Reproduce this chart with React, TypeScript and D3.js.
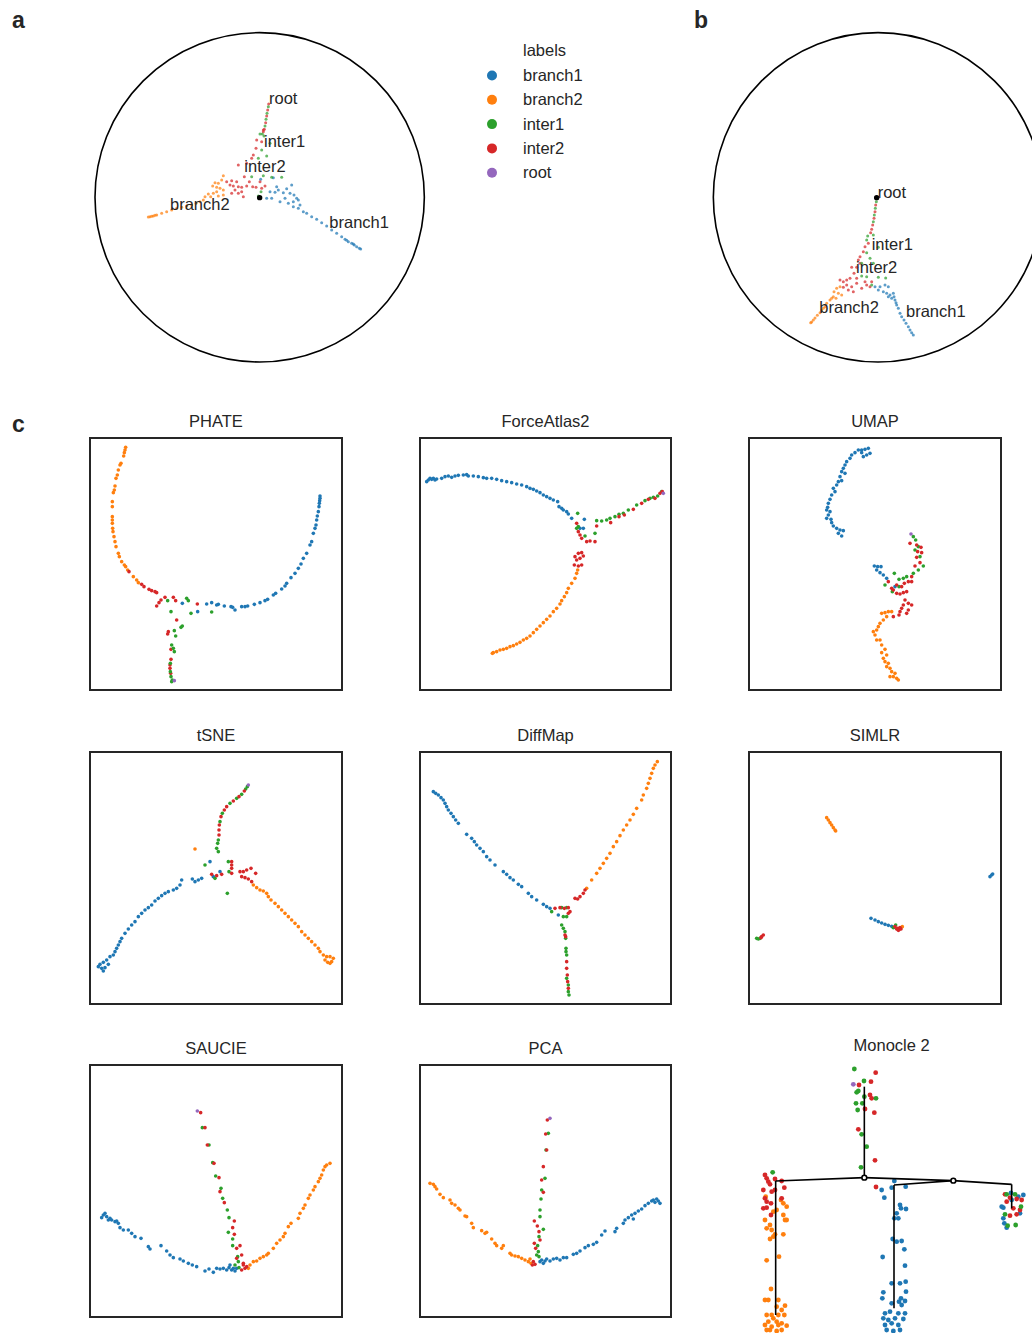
import React from 'react';
import * as d3 from 'd3';

// ---------- categories & colours ----------
const LABELS = ['branch1', 'branch2', 'inter1', 'inter2', 'root'];
const COLORS = ['#1f77b4', '#ff7f0e', '#2ca02c', '#d62728', '#9467bd'];
const B1 = 0, B2 = 1, I1 = 2, I2 = 3, RT = 4;

type Group = [number, number[]];

// ---------- panel a (Poincaré disk, arbitrary units) ----------
const A_PTS: Group[] = [
  [B2, [400,437,395,450,385,460,375,458,368,468,380,472,390,475,400,480,380,485,370,490,355,492,345,500,362,500,385,498,400,495,340,510,330,515,318,520,305,525,290,528,275,532,260,535,245,540,230,545,215,550,200,555,190,558,180,560,175,561,185,559,195,556]],
  [B1, [512,448,550,443,540,485,555,487,565,480,580,488,590,476,605,465,600,490,612,495,620,505,625,510,585,505,570,515,595,520,610,515,630,525,625,535,640,545,610,530,545,505,530,505,560,470,650,550,665,560,680,568,695,578,710,588,725,600,740,610,755,620,765,628,775,635,785,640,793,645,800,650,808,655,812,657,790,642,770,631]],
  [I2, [536,222,533,240,530,258,527,278,523,298,520,305,520,300,500,330,515,335,498,355,490,375,485,385,470,400,445,405,463,440,440,455,425,452,410,455,420,465,430,468,445,470,455,472,470,468,488,470,498,472,510,455,435,480,445,490,460,500,425,490,515,475,455,485,478,455,525,468]],
  [I1, [535,230,531,250,528,268,525,288,517,312,522,318,510,312,540,340,530,378,505,385,515,360,485,440,520,437,545,442,575,442,513,485,505,498]],
];
const A_LABELS = ['root', 'inter1', 'inter2', 'branch2', 'branch1'];
const A_LABEL_POS = [[537,222],[522,352],[463,425],[240,540],[718,595]];
const A_CENTER = [509, 503];
const A_DISK = [509, 502, 494];

// ---------- panel b ----------
const B_PTS: Group[] = [
  [B2, [420,770,410,775,402,785,415,790,425,795,400,800,390,810,408,805,380,820,375,830,365,840,360,848,352,856,345,864,340,870,335,876,332,878,395,805,370,835]],
  [B1, [525,770,540,770,555,765,565,770,535,780,550,785,560,790,570,795,575,805,585,810,565,800,580,790,590,825,595,835,600,850,605,860,612,870,618,880,625,890,630,900,635,908,640,915,588,818,582,800]],
  [I2, [527,525,525,545,522,565,518,585,515,598,512,608,505,640,495,650,490,665,480,680,475,690,480,700,470,712,455,712,462,730,450,745,440,750,430,755,420,750,440,765,455,770,470,760,485,775,500,765,510,770,445,780,460,785,430,772,470,745,515,755,495,755]],
  [I1, [529,515,526,535,523,555,520,575,503,618,520,615,500,630,535,652,500,668,510,685,520,700,485,700,485,738,500,740,535,742,557,744,515,765]],
];
const B_LABELS = ['root', 'inter1', 'inter2', 'branch2', 'branch1'];
const B_LABEL_POS = [[533,503],[515,660],[468,730],[358,850],[618,862]];
const B_CENTER = [530, 503];
const B_DISK = [534, 502, 494];

// ---------- panel c embeddings ----------
const PHATE: Group[] = [
  [B2, [122,112,120,120,118,128,116,138,108,160,105,165,100,180,97,195,93,205,90,228,88,240,85,248,82,275,82,290,82,320,82,330,82,340,83,355,84,365,87,380,90,395,93,410,100,430,103,440,110,455,118,465,122,470,128,480,145,500,155,510,160,518]],
  [B1, [292,580,338,605,365,582,380,578,395,585,400,583,418,588,438,590,443,592,450,600,470,590,480,590,488,588,508,583,525,578,540,572,548,568,565,555,572,550,590,537,600,528,605,520,618,503,630,490,640,475,648,462,655,445,665,430,675,405,680,395,685,370,690,355,693,345,695,330,697,318,700,305,702,290,703,280,704,272,705,265,705,258]],
  [I2, [132,485,170,523,177,530,192,538,200,542,210,545,215,548,240,562,228,570,222,578,215,588,265,562,272,572,337,582,275,630,250,665,248,672,258,718,258,748,255,765,255,775,257,790]],
  [I1, [248,572,305,565,310,572,258,605,318,610,380,606,292,648,288,652,268,662,272,678,260,705,265,715,268,725,256,760,256,785,258,800,262,810,260,815]],
  [RT, [268,812]],
];
const FORCEATLAS2: Group[] = [
  [B1, [35,215,40,210,45,205,50,208,55,205,60,210,65,207,80,205,90,200,100,198,110,202,120,198,130,196,145,195,155,194,160,198,175,198,190,200,205,203,215,205,230,205,245,208,260,212,275,215,290,218,305,222,320,225,335,230,345,235,355,238,365,243,375,248,385,255,395,260,405,265,415,270,428,275,432,290,440,295,445,300,455,305,460,312,470,325,508,328,505,355,495,355]],
  [B2, [488,480,485,490,480,505,470,520,460,535,455,548,448,560,440,572,435,582,425,595,415,605,405,618,395,628,385,638,375,648,365,658,355,668,345,678,335,685,325,690,315,697,305,702,295,707,285,710,275,715,265,718,255,720,245,725,235,728,232,730]],
  [I1, [488,310,545,332,560,333,575,330,585,325,485,355,490,350,510,378,540,370,600,320,612,313,625,310,640,300,665,285,690,272,705,265,715,262,728,258,740,245]],
  [I2, [485,340,545,348,587,338,490,365,495,375,500,385,515,395,525,393,540,395,480,440,490,430,500,428,505,438,485,450,495,445,478,465,490,468,500,465,612,320,628,315,655,298,680,280,700,268,720,265,735,250,742,245]],
  [RT, [745,250]],
];
const UMAP: Group[] = [
  [B1, [370,115,360,118,350,120,340,120,375,130,365,135,355,140,350,128,330,128,320,135,315,145,305,155,300,165,295,175,290,185,300,190,285,200,290,212,280,215,275,225,265,235,270,245,260,255,255,268,250,280,248,292,245,300,255,305,250,315,245,325,258,328,260,338,265,348,275,355,285,360,295,362,280,370,290,378,388,468,398,470,408,470,395,480,405,488,415,495,425,505,450,530]],
  [B2, [440,605,430,605,420,608,410,610,425,620,415,630,405,640,400,650,395,660,385,665,390,675,395,690,405,690,410,705,420,718,410,728,425,735,415,745,420,755,430,760,425,770,435,775,440,785,450,790,445,800,455,805,460,810,435,800]],
  [I1, [505,380,512,390,520,410,510,420,525,440,535,468,520,480,505,490,485,500,475,505,462,508,448,490,420,525,462,530,442,545]],
  [I2, [495,400,515,405,528,412,518,425,515,442,530,428,525,458,510,468,500,500,500,515,490,515,478,520,470,530,455,525,430,515,440,535,445,540,455,550,465,552,475,548,485,545,480,570,490,580,500,585,475,585,470,595,490,600,485,610,465,605,462,615,445,620]],
  [RT, [498,372]],
];
const TSNE: Group[] = [
  [B1, [375,410,405,440,385,455,350,460,340,465,330,470,322,462,290,465,285,480,275,490,265,495,250,500,240,505,230,512,220,520,210,528,200,540,190,548,180,555,170,565,160,575,150,590,140,600,130,612,120,625,110,640,105,650,100,660,95,670,90,680,85,690,75,695,65,705,55,712,45,718,40,725,50,730,60,728,55,738,70,718]],
  [B2, [330,372,505,480,515,488,525,495,535,498,545,505,550,515,558,525,570,535,580,545,590,555,600,565,610,575,620,585,630,595,640,605,650,620,660,630,670,640,680,650,690,660,700,670,705,680,715,690,725,695,735,695,745,700,740,710,728,712,720,705,735,715]],
  [I1, [487,185,482,192,470,208,455,220,435,235,412,265,405,290,400,345,398,355,395,370,400,380,430,410,432,440,390,460,360,420,427,505]],
  [I2, [478,198,462,215,445,228,425,245,418,255,408,275,403,300,402,315,402,330,440,410,440,420,440,430,440,445,380,448,395,452,410,448,465,440,475,440,485,435,498,430,512,445,470,455,480,458,490,462,500,470]],
  [RT, [490,180]],
];
const DIFFMAP: Group[] = [
  [B1, [55,200,62,205,70,210,78,218,85,225,90,235,95,245,100,255,108,265,115,275,122,285,130,295,155,328,170,340,178,350,185,360,195,370,205,380,215,395,225,405,240,420,265,440,275,448,285,458,295,465,310,478,320,485,340,505,350,515,365,525,385,538,395,545,405,550,430,570]],
  [B2, [515,490,530,465,545,445,555,430,565,415,575,400,585,385,595,365,605,350,615,332,625,315,635,300,645,285,655,268,665,250,680,225,685,210,695,190,700,175,705,160,710,145,715,130,720,120,727,110]],
  [I1, [410,560,440,548,455,548,445,575,455,575,440,600,445,610,450,620,452,640,453,670,453,680,455,690,455,760,460,780,460,800,462,810]],
  [I2, [420,550,435,548,448,550,460,548,465,560,460,565,480,520,488,522,495,515,505,505,510,495,450,630,452,635,455,710,455,730,457,750,458,770,460,790]],
];
const SIMLR: Group[] = [
  [B2, [245,278,250,285,255,293,260,300,265,308,270,315,272,318,472,605]],
  [B1, [735,455,740,450,743,447,378,580,390,585,400,590,410,594,420,598,430,601,440,604,448,606]],
  [I1, [452,600,445,608,35,640,40,642,45,640]],
  [I2, [450,605,458,610,462,614,465,608,455,612,460,616,468,612,50,635,55,630,48,638]],
];
const SAUCIE: Group[] = [
  [B1, [50,548,55,540,60,535,65,545,70,555,75,550,80,555,90,560,95,558,100,565,105,578,115,585,130,585,140,595,150,605,168,610,190,635,195,642,228,632,245,648,255,660,265,668,285,672,295,678,310,685,322,690,335,695,360,708,372,702,385,712,395,700,405,702,415,700,425,705,432,698,435,690,440,705,445,700,450,708,455,700]],
  [B2, [490,700,495,690,505,680,515,678,525,670,535,665,545,660,550,655,565,640,575,625,585,615,595,605,600,595,610,575,618,565,640,550,645,535,655,520,660,510,670,490,675,480,685,465,690,455,700,440,705,430,710,420,715,405,720,395,725,390,735,385]],
  [I1, [352,278,372,330,383,383,392,423,408,460,413,490,427,525,432,548,430,592,443,612,443,632,458,665,460,680,450,690,462,698]],
  [I2, [347,233,360,278,367,330,387,385,402,428,405,470,418,503,448,558,443,578,448,598,455,640,465,632,470,660,455,670,475,690,480,700,470,705,485,695,475,685]],
  [RT, [337,228]],
];
const PCA: Group[] = [
  [B2, [45,445,55,448,60,455,65,462,75,478,85,488,105,495,110,505,120,510,130,520,135,525,150,543,155,545,170,565,175,578,200,587,210,595,215,592,230,612,240,625,245,632,260,640,265,632,285,655,290,660,300,663,310,665,320,670,330,675,340,680,348,685,345,672]],
  [B1, [375,680,380,675,385,685,390,678,395,672,405,678,415,672,425,670,435,675,445,668,455,668,475,658,485,655,495,648,510,638,520,632,535,628,545,622,560,600,570,588,600,590,605,580,625,565,630,555,640,548,650,540,655,552,660,535,670,528,680,522,690,512,700,505,710,498,715,495,720,502,730,498,735,505,725,492]],
  [I1, [400,295,393,345,390,430,380,465,378,492,375,525,375,545,385,583,372,605,368,632,370,650,365,660,372,665]],
  [I2, [397,255,392,297,395,345,385,395,380,435,385,472,358,558,367,573,372,590,375,615,358,625,362,640,355,680,360,688,352,690]],
  [RT, [405,250]],
];
const MONOCLE: Group[] = [
  [B2, [62,485,108,495,115,505,125,515,95,525,85,530,115,540,60,555,120,555,125,555,75,570,65,580,80,585,90,598,115,598,75,612,85,605,102,665,65,676,78,762,60,795,70,795,100,795,95,815,120,812,110,825,65,840,80,840,100,840,118,840,85,850,70,860,95,860,110,865,60,870,80,875,100,870,125,872,75,885,95,888,65,885,110,885]],
  [B1, [448,438,410,465,440,458,482,455,418,488,465,510,468,520,483,522,455,535,448,550,460,550,443,612,455,620,470,618,478,643,413,666,480,692,440,745,465,745,482,740,483,770,415,772,412,790,468,790,462,800,480,798,440,805,470,810,420,835,435,830,460,835,480,835,415,850,430,855,450,850,475,852,420,870,440,865,460,870,425,885,445,888,465,885,798,474,775,518,800,495,835,480,820,485,770,515,825,535,775,550,778,565,785,578]],
  [I2, [392,113,378,140,342,150,375,180,380,190,360,222,388,233,340,283,390,376,393,456,60,420,65,430,70,440,75,448,90,432,110,438,118,458,90,465,80,470,55,465,60,490,65,500,78,505,55,520,65,518,110,490,78,540,780,478,795,488,815,492,785,500,830,495,805,520,795,542,815,538,825,525]],
  [I1, [328,102,357,138,335,172,340,168,358,185,393,190,333,205,352,205,338,225,350,298,365,335,348,397,83,412,785,478,810,478,828,515,780,538,812,570,788,572]],
  [RT, [325,148]],
];
const MONOCLE_EDGES = [[358,155,358,428],[92,438,358,428],[358,428,625,437],[447,450,625,437],[625,437,800,448],[92,438,92,840],[447,450,447,820],[800,448,800,520]];
const MONOCLE_NODES = [[358,428],[625,437]];

const TITLES = ['PHATE', 'ForceAtlas2', 'UMAP', 'tSNE', 'DiffMap', 'SIMLR', 'SAUCIE', 'PCA'];
const PANEL_DATA = [PHATE, FORCEATLAS2, UMAP, TSNE, DIFFMAP, SIMLR, SAUCIE, PCA];
// axis limits of each embedding (data units)
const COL_LIMITS = [[15, 771], [15, 768], [12, 768]];
const ROW_LIMITS = [[84, 840], [81, 837], [90, 846]];

// ---------- layout ----------
const W = 1032, H = 1333;
const FONT = '"Liberation Sans", Arial, Helvetica, sans-serif';
const TXT = '#262626';
const FS = 16.5;
const COL_X = [[90, 342], [420, 671], [749, 1001]];
const ROW_Y = [[438, 690], [752, 1004], [1065, 1317]];

function flatten(groups: Group[]) {
  const out: { x: number; y: number; c: number }[] = [];
  groups.forEach(([c, arr]) => {
    for (let i = 0; i < arr.length; i += 2) out.push({ x: arr[i], y: arr[i + 1], c });
  });
  return out;
}

function Disk({ pts, labels, labelPos, center, disk, xr, yr, dom }: any) {
  const x = d3.scaleLinear().domain(dom[0]).range(xr);
  const y = d3.scaleLinear().domain(dom[1]).range(yr);
  const k = (xr[1] - xr[0]) / (dom[0][1] - dom[0][0]);
  return (
    <g>
      <circle cx={x(disk[0])} cy={y(disk[1])} r={disk[2] * k} fill="none" stroke="#000" strokeWidth={1.6} />
      {flatten(pts).map((p, i) => (
        <circle key={i} cx={x(p.x)} cy={y(p.y)} r={1.5} fill={COLORS[p.c]} opacity={0.72} />
      ))}
      <circle cx={x(center[0])} cy={y(center[1])} r={2.7} fill="#000" />
      {labels.map((t: string, i: number) => (
        <text key={t} x={x(labelPos[i][0])} y={y(labelPos[i][1])} fontSize={FS} fill={TXT} fontFamily={FONT}>{t}</text>
      ))}
    </g>
  );
}

export default function App() {
  const mx = d3.scaleLinear().domain([0, 861]).range([745, 1032]);
  const my = d3.scaleLinear().domain([0, 894]).range([1035, 1333]);
  return (
    <svg width={W} height={H} style={{ position: 'absolute', left: 0, top: 0, background: '#fff' }} fontFamily={FONT}>
      <rect width={W} height={H} fill="#fff" />
      <text x={12} y={28} fontSize={23} fontWeight="bold" fill={TXT}>a</text>
      <text x={694} y={28} fontSize={23} fontWeight="bold" fill={TXT}>b</text>
      <text x={12} y={432} fontSize={23} fontWeight="bold" fill={TXT}>c</text>

      <Disk pts={A_PTS} labels={A_LABELS} labelPos={A_LABEL_POS} center={A_CENTER} disk={A_DISK}
        dom={[[0, 1020], [0, 1005]]} xr={[90, 430]} yr={[30, 365]} />
      <Disk pts={B_PTS} labels={B_LABELS} labelPos={B_LABEL_POS} center={B_CENTER} disk={B_DISK}
        dom={[[0, 996], [0, 1005]]} xr={[700, 1032]} yr={[30, 365]} />

      {/* legend */}
      <g>
        <text x={523} y={56} fontSize={FS} fill={TXT}>labels</text>
        {LABELS.map((l, i) => (
          <g key={l}>
            <circle cx={492} cy={75.5 + i * 24.3} r={5} fill={COLORS[i]} />
            <text x={523} y={81 + i * 24.3} fontSize={FS} fill={TXT}>{l}</text>
          </g>
        ))}
      </g>

      {PANEL_DATA.map((data, idx) => {
        const col = idx % 3, row = Math.floor(idx / 3);
        const x = d3.scaleLinear().domain(COL_LIMITS[col]).range(COL_X[col]);
        const y = d3.scaleLinear().domain(ROW_LIMITS[row]).range(ROW_Y[row]);
        const [x0, x1] = COL_X[col], [y0, y1] = ROW_Y[row];
        return (
          <g key={idx}>
            <text x={(x0 + x1) / 2} y={y0 - 11} fontSize={FS} textAnchor="middle" fill={TXT}>{TITLES[idx]}</text>
            {flatten(data).map((p, i) => (
              <circle key={i} cx={x(p.x)} cy={y(p.y)} r={1.8} fill={COLORS[p.c]} />
            ))}
            <rect x={x0} y={y0} width={x1 - x0} height={y1 - y0} fill="none" stroke="#262626" strokeWidth={2} />
          </g>
        );
      })}

      {/* Monocle 2 */}
      <g>
        <text x={mx(440)} y={1051} fontSize={FS} textAnchor="middle" fill={TXT}>Monocle 2</text>
        {flatten(MONOCLE).map((p, i) => (
          <circle key={i} cx={mx(p.x)} cy={my(p.y)} r={2.4} fill={COLORS[p.c]} />
        ))}
        {MONOCLE_EDGES.map((e, i) => (
          <line key={i} x1={mx(e[0])} y1={my(e[1])} x2={mx(e[2])} y2={my(e[3])} stroke="#000" strokeWidth={1.6} />
        ))}
        {MONOCLE_NODES.map((n, i) => (
          <circle key={i} cx={mx(n[0])} cy={my(n[1])} r={2.4} fill="#fff" stroke="#000" strokeWidth={1.6} />
        ))}
      </g>
    </svg>
  );
}
